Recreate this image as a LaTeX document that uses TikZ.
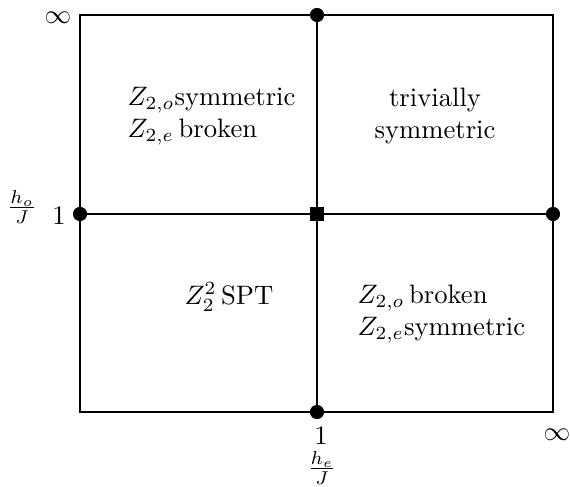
\documentclass[tikz,border=0pt]{standalone}
\begin{document}
\begin{tikzpicture}[x=0.375pt,y=-0.375pt,
  frame/.style={line width=0.75pt},
  dot/.style={circle,fill=black,inner sep=0pt,minimum size=5.2pt},
  sq/.style={rectangle,fill=black,inner sep=0pt,minimum size=5.2pt},
  lab/.style={inner sep=0pt},
  region/.style={inner sep=0pt,align=left}]
\useasboundingbox (0,0) rectangle (570,487);
\coordinate (tl) at (80,15);
\coordinate (tr) at (553,15);
\coordinate (bl) at (80,412);
\coordinate (br) at (553,412);
\node[dot] (top) at (317,15) {};
\node[dot] (left) at (80,214) {};
\node[dot] (right) at (553,214) {};
\node[dot] (bot) at (317,412) {};
\node[sq] (mid) at (317,214) {};
\draw[frame] (tl) -- (tr) -- (br) -- (bl) -- cycle;
\draw[frame] (top.center) -- (bot.center);
\draw[frame] (left.center) -- (right.center);
\node[dot] at (top) {};
\node[dot] at (left) {};
\node[dot] at (right) {};
\node[dot] at (bot) {};
\node[sq] at (mid) {};
\node[lab] (inftl) at (58,18) {$\infty$};
\node[lab] (infbr) at (557,435) {$\infty$};
\node[lab] (oneL) at (59,216) {$1$};
\node[lab] (hoJ) at (22,207) {$\frac{h_o}{J}$};
\node[lab] (oneB) at (321,436) {$1$};
\node[lab] (heJ) at (322,468) {$\frac{h_e}{J}$};
\node[region,anchor=west] (r1) at (127,116) {$Z_{2,o}$symmetric\\$Z_{2,e}\,$broken};
\node[region,align=center] (r2) at (435,116) {trivially\\symmetric};
\node[lab] (r3) at (229,297) {$Z_2^2\,$SPT};
\node[region,anchor=west] (r4) at (357,314) {$Z_{2,o}\,$broken\\$Z_{2,e}$symmetric};
\end{tikzpicture}
\end{document}
